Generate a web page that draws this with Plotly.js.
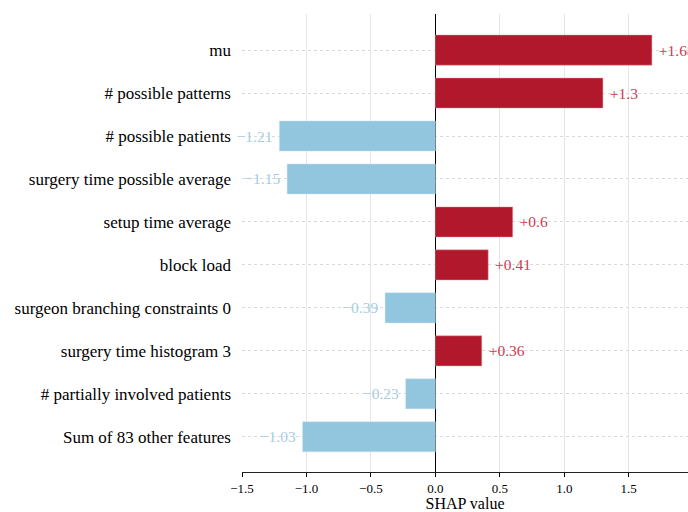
<!DOCTYPE html>
<html>
<head>
<meta charset="utf-8">
<script src="https://cdn.plot.ly/plotly-3.0.1.min.js"></script>
<style>html,body{margin:0;padding:0;background:#fff;}#chart{width:688px;height:512px;}</style>
</head>
<body>
<div id="chart"></div>
<script>
const features = [
  "mu",
  "# possible patterns",
  "# possible patients",
  "surgery time possible average",
  "setup time average",
  "block load",
  "surgeon branching constraints 0",
  "surgery time histogram 3",
  "# partially involved patients",
  "Sum of 83 other features"
];
const shapValues = [1.68, 1.3, -1.21, -1.15, 0.6, 0.41, -0.39, 0.36, -0.23, -1.03];
const xTickValues = [-1.5, -1.0, -0.5, 0.0, 0.5, 1.0, 1.5];

const posBar = "#b2182b", negBar = "#92c5de";
const posText = "#cf3a50", negText = "#a6cde2";
const FONT = "'Liberation Serif', 'DejaVu Serif', serif";

const fmt = v => v > 0 ? "\u00a0+" + String(v) : "\u2212" + String(Math.abs(v)) + "\u00a0";

const trace = {
  type: "bar",
  orientation: "h",
  x: shapValues,
  y: features,
  width: 0.7,
  marker: {
    color: shapValues.map(v => v >= 0 ? posBar : negBar),
    line: {color: shapValues.map(v => v >= 0 ? "rgba(230,150,160,0.8)" : "rgba(200,225,240,0.8)"), width: 0.6}
  },
  text: shapValues.map(fmt),
  textposition: "outside",
  constraintext: "none",
  cliponaxis: false,
  textfont: {family: FONT, size: 15.5, color: shapValues.map(v => v >= 0 ? posText : negText)},
  hoverinfo: "none"
};

const layout = {
  width: 688, height: 512,
  margin: {l: 242, r: 0, t: 14, b: 40},
  paper_bgcolor: "#fff", plot_bgcolor: "#fff",
  font: {family: FONT, color: "#000"},
  showlegend: false,
  xaxis: {
    range: [-1.5, 1.96],
    tickvals: xTickValues,
    ticktext: xTickValues.map(v => (v < 0 ? "\u2212" : "") + Math.abs(v).toFixed(1)),
    ticks: "outside", ticklen: 4, tickcolor: "#000", tickwidth: 1,
    showline: true, linecolor: "#222", linewidth: 1,
    showgrid: true, gridcolor: "#e6e6e6", gridwidth: 1,
    zeroline: true, zerolinecolor: "#000", zerolinewidth: 1.3,
    tickfont: {size: 13},
    title: {text: "SHAP value", font: {size: 16}, standoff: 4}
  },
  yaxis: {
    type: "category",
    range: [9.82, -0.84],
    showgrid: true, gridcolor: "#d9d9d9", griddash: "dot", gridwidth: 1,
    showline: false, zeroline: false,
    ticks: "", ticklabelstandoff: 10,
    tickfont: {size: 17}
  },
  bargap: 0.3
};

Plotly.newPlot("chart", [trace], layout, {staticPlot: true, displayModeBar: false});
</script>
</body>
</html>
